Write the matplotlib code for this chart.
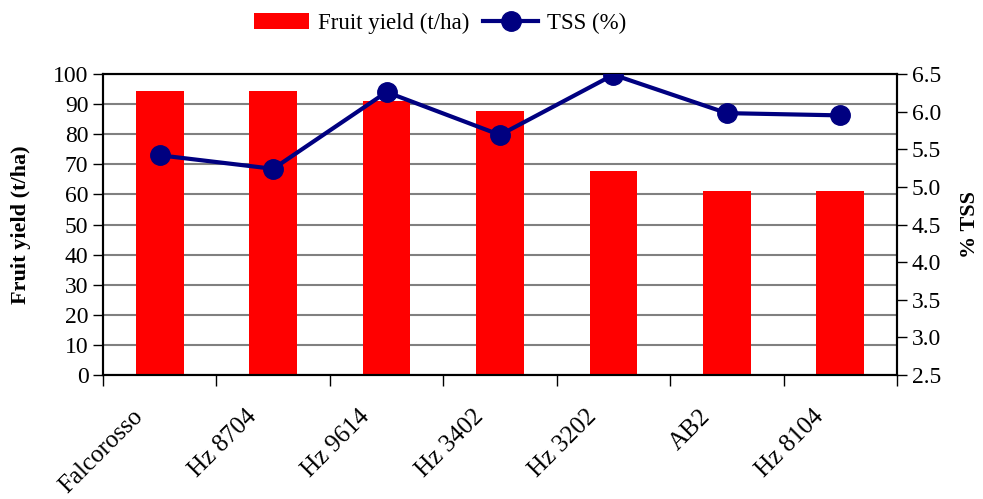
import numpy as np
import matplotlib.pyplot as plt
import matplotlib.transforms as mtransforms
from matplotlib.ticker import MultipleLocator, FixedLocator, NullFormatter

plt.rcParams['font.family'] = ['Liberation Serif', 'DejaVu Serif']

# data
varieties = ['Falcorosso', 'Hz 8704', 'Hz 9614', 'Hz 3402', 'Hz 3202', 'AB2', 'Hz 8104']
fruit_yield = [94.3, 94.3, 91.0, 87.7, 67.8, 61.1, 61.1]   # t/ha
tss = [5.42, 5.24, 6.26, 5.69, 6.49, 5.98, 5.95]           # %

x = np.arange(len(varieties))

fig = plt.figure(figsize=(9.83, 4.99), dpi=100)
ax = fig.add_axes([0.1048, 0.2485, 0.8077, 0.6032])

bars = ax.bar(x, fruit_yield, width=0.42, color='#ff0000', zorder=2, label='Fruit yield (t/ha)')
ax.set_ylim(0, 100)
ax.set_xlim(-0.5, len(varieties) - 0.5)
ax.yaxis.set_major_locator(MultipleLocator(10))
ax.grid(axis='y', color='#808080', linewidth=1.5, zorder=0)
ax.set_axisbelow(True)

# category ticks between groups, labels centred
ax.set_xticks(x)
ax.set_xticklabels(varieties, rotation=45, ha='right', rotation_mode='anchor', fontsize=18)
ax.tick_params(axis='x', which='major', length=0, pad=22)
shift = mtransforms.ScaledTranslation(-0.28, 0, fig.dpi_scale_trans)
for lbl in ax.get_xticklabels():
    lbl.set_transform(lbl.get_transform() + shift)
ax.xaxis.set_minor_locator(FixedLocator(np.arange(-0.5, len(varieties), 1)))
ax.xaxis.set_minor_formatter(NullFormatter())
ax.tick_params(axis='x', which='minor', length=8, width=1, direction='out')
ax.tick_params(axis='y', labelsize=17, length=7, width=1, direction='out')
ax.set_ylabel('Fruit yield (t/ha)', fontsize=16, fontweight='bold', labelpad=16)

ax2 = ax.twinx()
line, = ax2.plot(x, tss, color='#000080', linewidth=3, marker='o', markersize=14,
                 label='TSS (%)', zorder=3)
ax2.set_ylim(2.5, 6.5)
ax2.set_yticks(np.arange(2.5, 6.51, 0.5))
ax2.set_yticklabels(['%.1f' % v for v in np.arange(2.5, 6.51, 0.5)])
ax2.tick_params(axis='y', labelsize=17, length=7, width=1, direction='out')
ax2.set_ylabel('% TSS', fontsize=16, fontweight='bold', labelpad=14)

for a in (ax, ax2):
    for s in a.spines.values():
        s.set_color('black')
        s.set_linewidth(1.5)

fig.legend([bars, line], ['Fruit yield (t/ha)', 'TSS (%)'], loc='upper center',
           bbox_to_anchor=(0.448, 1.015), ncol=2, frameon=False, fontsize=16.5,
           handlelength=2.4, columnspacing=0.6, handletextpad=0.4)

fig.savefig('out.png', dpi=100)
